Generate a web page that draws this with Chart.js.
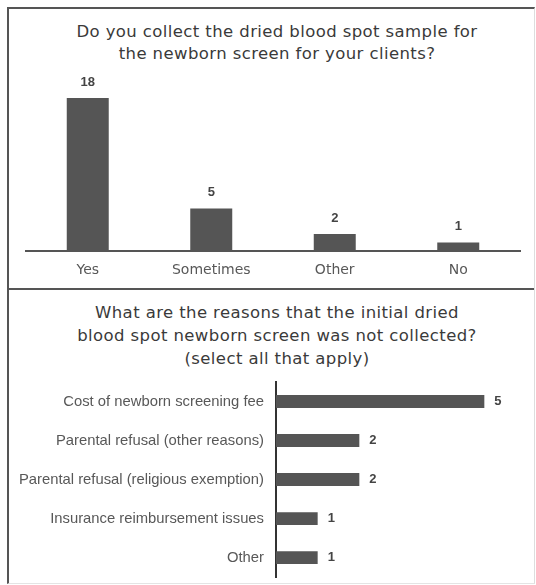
<!DOCTYPE html>
<html>
<head>
<meta charset="utf-8">
<script src="https://cdn.jsdelivr.net/npm/chart.js@4.4.1/dist/chart.umd.min.js"></script>
<style>
  html, body { margin: 0; padding: 0; background: #fff; }
  body { width: 536px; height: 585px; position: relative; overflow: hidden; font-family: "DejaVu Sans", sans-serif; }
  #frame { position: absolute; left: 7px; top: 7px; width: 525px; height: 574px;
           border-left: 2px solid #555; border-top: 2px solid #555;
           border-right: 1px solid #ddd; border-bottom: 1px solid #e4e4e4; }
  #divider { position: absolute; left: 7px; top: 288px; width: 527px; height: 2px; background: #555; }
  .title { position: absolute; left: 57px; width: 440px; text-align: center; color: #3a3a3a;
           font-size: 16.5px; letter-spacing: 0.4px; line-height: 22px; }
  #t1 { top: 21px; }
  #t2 { top: 301px; line-height: 23px; }
  canvas { position: absolute; }
  #c1 { left: 10px; top: 10px; }
  #c2 { left: 10px; top: 291px; }
</style>
</head>
<body>
<div id="frame"></div>
<div id="divider"></div>
<div class="title" id="t1">Do you collect the dried blood spot sample for<br>the newborn screen for your clients?</div>
<div class="title" id="t2">What are the reasons that the initial dried<br>blood spot newborn screen was not collected?<br>(select all that apply)</div>
<canvas id="c1" width="522" height="278"></canvas>
<canvas id="c2" width="522" height="307"></canvas>
<script>
  var collectAnswers = ['Yes', 'Sometimes', 'Other', 'No'];
  var collectCounts = [18, 5, 2, 1];

  var reasonLabels = [
    'Cost of newborn screening fee',
    'Parental refusal (other reasons)',
    'Parental refusal (religious exemption)',
    'Insurance reimbursement issues',
    'Other'
  ];
  var reasonCounts = [5, 2, 2, 1, 1];

  var barColour = '#555555';
  var textColour = '#585858';

  // draws the count next to each bar
  var valueLabels = {
    id: 'valueLabels',
    afterDatasetsDraw: function(chart) {
      var ctx = chart.ctx;
      var horizontal = chart.options.indexAxis === 'y';
      var data = chart.data.datasets[0].data;
      ctx.save();
      ctx.fillStyle = '#444';
      ctx.font = 'bold 13px "Liberation Sans", sans-serif';
      ctx.textBaseline = 'middle';
      chart.getDatasetMeta(0).data.forEach(function(bar, i) {
        if (horizontal) {
          ctx.textAlign = 'left';
          ctx.fillText(data[i], bar.x + 10, bar.y);
        } else {
          ctx.textAlign = 'center';
          ctx.fillText(data[i], bar.x, bar.y - 16);
        }
      });
      ctx.restore();
    }
  };

  Chart.defaults.animation = false;
  Chart.defaults.responsive = false;
  Chart.defaults.font.family = '"DejaVu Sans", sans-serif';

  new Chart(document.getElementById('c1'), {
    type: 'bar',
    data: {
      labels: collectAnswers,
      datasets: [{
        data: collectCounts,
        backgroundColor: barColour,
        barPercentage: 0.34,
        categoryPercentage: 1
      }]
    },
    options: {
      layout: { padding: { left: 16, right: 12, top: 71, bottom: 7 } },
      plugins: { legend: { display: false }, tooltip: { enabled: false } },
      scales: {
        x: {
          grid: { display: false, drawTicks: false },
          border: { color: '#555', width: 2 },
          ticks: { color: textColour, font: { size: 14 }, padding: 11 },
          afterFit: function(s) { s.height = 30; }
        },
        y: { display: false, min: 0, max: 20 }
      }
    },
    plugins: [valueLabels]
  });

  new Chart(document.getElementById('c2'), {
    type: 'bar',
    data: {
      labels: reasonLabels,
      datasets: [{
        data: reasonCounts,
        backgroundColor: barColour,
        barPercentage: 0.33,
        categoryPercentage: 1
      }]
    },
    options: {
      indexAxis: 'y',
      layout: { padding: { left: 0, right: 6, top: 91, bottom: 2 } },
      plugins: { legend: { display: false }, tooltip: { enabled: false } },
      scales: {
        y: {
          grid: { display: false, drawTicks: false },
          border: { color: '#333', width: 2 },
          ticks: { color: textColour, font: { family: '"Liberation Sans", sans-serif', size: 14.8 }, padding: 12 },
          afterFit: function(s) { s.width = 266; }
        },
        x: { display: false, min: 0, max: 6 }
      }
    },
    plugins: [valueLabels]
  });
</script>
</body>
</html>
